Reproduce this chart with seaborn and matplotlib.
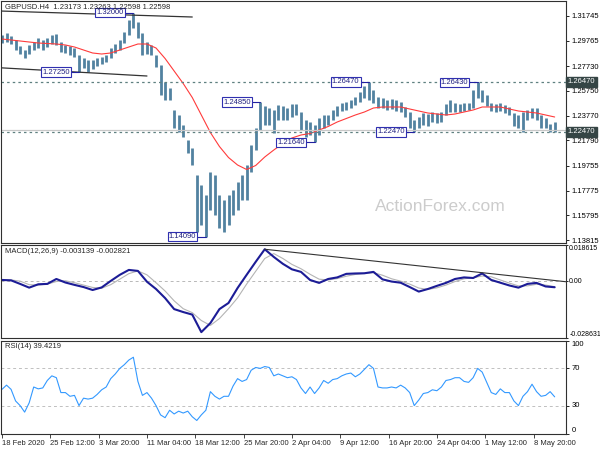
import numpy as np
import matplotlib
matplotlib.use("Agg")
import matplotlib.pyplot as plt
import seaborn as sns

# GBPUSD H4, each bar below stands for three H4 bars (12 hours)
bar_high = [1.3022, 1.3038, 1.3014, 1.2982, 1.2934, 1.2902, 1.2942, 1.2966, 1.2998, 1.2982,
            1.2998, 1.3022, 1.3030, 1.2966, 1.2942, 1.2934, 1.2918, 1.2862, 1.2838, 1.2822,
            1.2822, 1.2838, 1.2846, 1.2862, 1.2918, 1.2950, 1.2982, 1.3046, 1.3142, 1.3200,
            1.3126, 1.3038, 1.2966, 1.2942, 1.2862, 1.2782, 1.2646, 1.2598, 1.2422, 1.2382,
            1.2302, 1.2182, 1.2118, 1.1902, 1.1822, 1.1742, 1.1926, 1.1902, 1.1742, 1.1702,
            1.1742, 1.1782, 1.1846, 1.1902, 1.1982, 1.2142, 1.2278, 1.2485, 1.2454, 1.2438,
            1.2422, 1.2462, 1.2454, 1.2438, 1.2470, 1.2470, 1.2406, 1.2342, 1.2326, 1.2302,
            1.2358, 1.2382, 1.2382, 1.2422, 1.2454, 1.2478, 1.2486, 1.2502, 1.2526, 1.2566,
            1.2614, 1.2647, 1.2582, 1.2526, 1.2518, 1.2502, 1.2510, 1.2502, 1.2486, 1.2446,
            1.2406, 1.2342, 1.2366, 1.2398, 1.2390, 1.2406, 1.2398, 1.2406, 1.2470, 1.2502,
            1.2478, 1.2470, 1.2478, 1.2478, 1.2582, 1.2643, 1.2582, 1.2542, 1.2478, 1.2470,
            1.2478, 1.2462, 1.2446, 1.2398, 1.2382, 1.2406, 1.2422, 1.2438, 1.2438, 1.2382,
            1.2358, 1.2310, 1.2326]
bar_low = [1.2958, 1.2966, 1.2950, 1.2902, 1.2870, 1.2838, 1.2870, 1.2902, 1.2918, 1.2902,
           1.2926, 1.2950, 1.2942, 1.2886, 1.2878, 1.2862, 1.2846, 1.2725, 1.2758, 1.2726,
           1.2750, 1.2774, 1.2790, 1.2806, 1.2838, 1.2878, 1.2902, 1.2958, 1.3022, 1.3078,
           1.2998, 1.2862, 1.2870, 1.2862, 1.2766, 1.2542, 1.2502, 1.2502, 1.2278, 1.2246,
           1.2206, 1.2078, 1.1982, 1.1446, 1.1502, 1.1409, 1.1622, 1.1582, 1.1478, 1.1446,
           1.1502, 1.1582, 1.1622, 1.1702, 1.1702, 1.1926, 1.2102, 1.2262, 1.2302, 1.2302,
           1.2238, 1.2342, 1.2342, 1.2342, 1.2366, 1.2382, 1.2262, 1.2206, 1.2222, 1.2164,
           1.2222, 1.2278, 1.2302, 1.2342, 1.2374, 1.2414, 1.2422, 1.2438, 1.2462, 1.2486,
           1.2518, 1.2502, 1.2478, 1.2438, 1.2438, 1.2422, 1.2430, 1.2414, 1.2406, 1.2366,
           1.2278, 1.2247, 1.2278, 1.2302, 1.2294, 1.2326, 1.2318, 1.2326, 1.2382, 1.2406,
           1.2406, 1.2406, 1.2414, 1.2422, 1.2438, 1.2518, 1.2486, 1.2454, 1.2414, 1.2406,
           1.2414, 1.2398, 1.2382, 1.2294, 1.2278, 1.2247, 1.2342, 1.2358, 1.2342, 1.2278,
           1.2278, 1.2246, 1.2246]

# moving average, MACD and signal, read at every second bar
ma_vals = [1.2990, 1.2982, 1.2974, 1.2966, 1.2958, 1.2954, 1.2950, 1.2942, 1.2926, 1.2902,
           1.2878, 1.2870, 1.2878, 1.2902, 1.2926, 1.2950, 1.2950, 1.2918, 1.2834, 1.2734,
           1.2634, 1.2522, 1.2382, 1.2242, 1.2130, 1.2042, 1.1982, 1.1946, 1.1978, 1.2046,
           1.2102, 1.2154, 1.2198, 1.2222, 1.2234, 1.2262, 1.2290, 1.2326, 1.2354, 1.2382,
           1.2406, 1.2438, 1.2446, 1.2446, 1.2446, 1.2430, 1.2414, 1.2398, 1.2390, 1.2382,
           1.2390, 1.2406, 1.2422, 1.2446, 1.2446, 1.2446, 1.2430, 1.2414, 1.2406, 1.2398,
           1.2382, 1.2366]
macd_vals = [0.0006, 0.0004, -0.0014, -0.0033, -0.0016, -0.0014, 0.0011, -0.0007, -0.0019, -0.0030,
             -0.0045, -0.0032, 0.0001, 0.0032, 0.0057, 0.0052, -0.0003, -0.0040, -0.0086, -0.0142,
             -0.0157, -0.0170, -0.0259, -0.0213, -0.0142, -0.0111, -0.0035, 0.0032, 0.0098, 0.0162,
             0.0123, 0.0088, 0.0060, 0.0047, 0.0006, -0.0009, 0.0011, 0.0019, 0.0037, 0.0039,
             0.0040, 0.0047, 0.0009, -0.0002, -0.0008, -0.0030, -0.0053, -0.0040, -0.0024, -0.0009,
             0.0011, 0.0019, 0.0016, 0.0039, 0.0006, -0.0008, -0.0022, -0.0033, -0.0014, -0.0009,
             -0.0027, -0.0031]
signal_vals = [0.0004, 0.0006, 0.0000, -0.0018, -0.0020, -0.0015, -0.0002, 0.0002, -0.0008, -0.0020,
               -0.0032, -0.0036, -0.0018, 0.0010, 0.0038, 0.0052, 0.0032, -0.0008, -0.0050, -0.0100,
               -0.0140, -0.0160, -0.0200, -0.0225, -0.0190, -0.0140, -0.0085, -0.0015, 0.0050, 0.0115,
               0.0140, 0.0115, 0.0085, 0.0063, 0.0035, 0.0010, 0.0006, 0.0013, 0.0025, 0.0034,
               0.0039, 0.0043, 0.0030, 0.0012, 0.0000, -0.0015, -0.0035, -0.0042, -0.0034, -0.0020,
               -0.0002, 0.0012, 0.0017, 0.0026, 0.0022, 0.0006, -0.0010, -0.0024, -0.0024, -0.0016,
               -0.0020, -0.0028]
rsi_vals = [47.5, 52, 47.5, 35, 30, 23, 33, 50, 48, 49,
            57, 62, 60, 44, 44, 40, 41, 30, 38, 37,
            38, 42, 47, 50, 59, 64, 70, 74, 79, 82,
            56, 41, 44, 38, 30, 20, 17, 25, 21, 24,
            22, 24, 18, 14, 20, 25, 45, 40, 37, 40,
            40, 51, 59, 56, 58, 68, 71, 70, 72, 71,
            62, 64, 62, 60, 61, 58, 49, 43, 50, 43,
            49, 57, 54, 58, 59, 62, 64, 65, 61, 64,
            69, 74, 70, 50, 49, 49, 50, 49, 52, 49,
            44, 30, 36, 43, 44, 47, 46, 50, 57, 58,
            60, 60, 56, 55, 60, 70, 66, 55, 44, 42,
            48, 44, 44, 35, 30, 40, 45, 53, 45, 40,
            41, 45, 39.42]

price_ticks = [1.31745, 1.29765, 1.27730, 1.25750, 1.23770, 1.21790, 1.19755, 1.17775, 1.15795, 1.13815]
date_labels = ["18 Feb 2020", "25 Feb 12:00", "3 Mar 20:00", "11 Mar 04:00", "18 Mar 12:00",
               "25 Mar 20:00", "2 Apr 04:00", "9 Apr 12:00", "16 Apr 20:00", "24 Apr 04:00",
               "1 May 12:00", "8 May 20:00"]
levels = [1.26470, 1.22470]
bid = 1.22598
# swing high / low labels: text, bar index
swings = [("1.32000", 29), ("1.27250", 17), ("1.14090", 45), ("1.24850", 57),
          ("1.21640", 69), ("1.26470", 81), ("1.22470", 91), ("1.26430", 105)]
# trend lines (bar, price)
trend_top = [(-0.5, 1.3214), (42, 1.3166)]
trend_low = [(-0.5, 1.2760), (32, 1.2694)]
trend_macd = [(58, 0.0162), (124.5, -0.0003)]

sns.set_style("white")
plt.rcParams['font.family'] = ['Liberation Sans', 'DejaVu Sans']
FS = 5.5
BAR = '#5282a0'

W, H = 600, 450
fig = plt.figure(figsize=(6, 4.5), dpi=100)


def box(x0, y0, x1, y1):
    return [x0 / W, 1 - y1 / H, (x1 - x0) / W, (y1 - y0) / H]


ax = fig.add_axes(box(1, 1, 566, 242.5))
ax_m = fig.add_axes(box(1, 244.5, 566, 337.5))
ax_r = fig.add_axes(box(1, 340.5, 566, 433.5))

bars = np.arange(len(bar_high))
half = np.arange(0, len(bar_high), 2)

for a in (ax, ax_m, ax_r):
    a.set_xlim(-0.22, 124.5)
    for s in a.spines.values():
        s.set_color('#303030')
        s.set_linewidth(0.8)
    a.yaxis.tick_right()
    a.tick_params(axis='y', direction='out', length=2.5, width=0.6, pad=1.5, labelsize=FS, colors='black')
    a.set_xticks([])
    a.set_xlabel('')
    a.set_ylabel('')

# ---- price panel
ax.set_ylim(1.1362, 1.3294)
ax.vlines(bars, bar_low, bar_high, color=BAR, lw=2.0)
sns.lineplot(x=half, y=ma_vals, ax=ax, color='#ff3b3b', lw=0.8)
for lv in levels:
    ax.axhline(lv, color='#5f8080', ls=(0, (2, 2.5)), lw=0.9)
    ax.text(1.003, lv, f"{lv:.5f}", transform=ax.get_yaxis_transform(), ha='left', va='center',
            fontsize=FS, color='white', bbox=dict(boxstyle='square,pad=0.2', fc='#354545', ec='#354545'))
ax.axhline(bid, color='#c8c8c8', lw=0.9)
for (x0, p0), (x1, p1) in [trend_top, trend_low]:
    ax.plot([x0, x1], [p0, p1], color='#333333', lw=0.9)
for txt, k in swings:
    p = float(txt)
    ax.plot([k - 2.1, k], [p, p], color='#2020a0', lw=0.8)
    ax.text(k - 2.1, p, txt, ha='right', va='center', fontsize=FS, color='#202080',
            bbox=dict(boxstyle='square,pad=0.15', fc='white', ec='#3030b0', lw=0.8))
ax.set_yticks(price_ticks)
ax.set_yticklabels([f"{t:.5f}" for t in price_ticks])
ax.text(0.007, 0.975, "GBPUSD.H4  1.23173 1.23263 1.22598 1.22598", transform=ax.transAxes,
        fontsize=FS, va='center', ha='left')
ax.text(0.777, 0.147, "ActionForex.com", transform=ax.transAxes, fontsize=12.5,
        color='#cccccc', ha='center', va='center')

# ---- MACD panel
ax_m.set_ylim(-0.028631, 0.018615)
ax_m.axhline(0, color='#b8b8b8', ls=(0, (3, 3)), lw=0.7)
sns.lineplot(x=half, y=signal_vals, ax=ax_m, color='#b4b4b4', lw=0.8)
sns.lineplot(x=half, y=macd_vals, ax=ax_m, color='#1c1c96', lw=1.5)
(x0, v0), (x1, v1) = trend_macd
ax_m.plot([x0, x1], [v0, v1], color='#333333', lw=0.8)
ax_m.set_yticks([0.018615, 0.0, -0.028631])
ax_m.set_yticklabels(['0.018615', '0.00', '-0.028631'])
ax_m.tick_params(axis='y', length=1.5, pad=0.8, labelsize=5.0)
for lbl, va in zip(ax_m.get_yticklabels(), ['top', 'center', 'bottom']):
    lbl.set_va(va)
ax_m.text(0.007, 0.93, "MACD(12,26,9) -0.003139 -0.002821", transform=ax_m.transAxes,
          fontsize=FS, va='center', ha='left')

# ---- RSI panel
ax_r.set_ylim(0, 100)
for lv in (70, 30):
    ax_r.axhline(lv, color='#c0c0c0', ls=(0, (3, 3)), lw=0.7)
sns.lineplot(x=bars, y=rsi_vals, ax=ax_r, color='#3399ff', lw=0.8)
ax_r.set_yticks([100, 70, 30, 0])
ax_r.set_yticklabels(['100', '70', '30', '0'])
for lbl, va in zip(ax_r.get_yticklabels(), ['top', 'center', 'center', 'bottom']):
    lbl.set_va(va)
ax_r.text(0.007, 0.933, "RSI(14) 39.4219", transform=ax_r.transAxes,
          fontsize=FS, va='center', ha='left')
ax_r.set_xticks([i * 32 / 3 for i in range(len(date_labels))])
ax_r.set_xticklabels(date_labels)
ax_r.tick_params(axis='x', direction='out', length=3, width=0.6, pad=2, labelsize=FS, bottom=True)
for lbl in ax_r.get_xticklabels():
    lbl.set_ha('left')

fig.savefig('out.png', dpi=100)
